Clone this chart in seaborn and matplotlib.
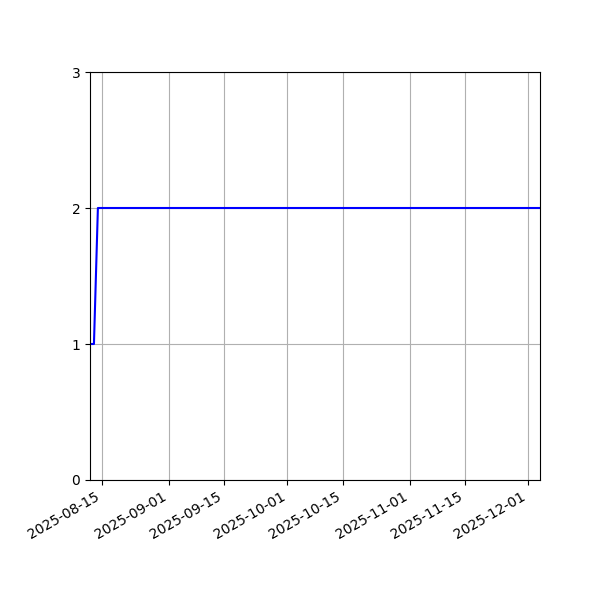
import pandas as pd
import seaborn as sns
import matplotlib.pyplot as plt
import matplotlib.dates as mdates

# 数据
dates = ['2025-08-12', '2025-08-13', '2025-08-14', '2025-12-04']
values = [1, 1, 2, 2]

df = pd.DataFrame({'date': pd.to_datetime(dates), 'value': values})

fig, ax = plt.subplots(figsize=(6, 6), dpi=100)

sns.lineplot(x='date', y='value', data=df, ax=ax, color='blue', linewidth=1.5)

ax.set_xlim(df['date'].min(), df['date'].max())
ax.set_ylim(0, 3)
ax.set_yticks([0, 1, 2, 3])
ax.set_xlabel('')
ax.set_ylabel('')
ax.xaxis.set_major_locator(mdates.DayLocator(bymonthday=[1, 15]))
ax.xaxis.set_major_formatter(mdates.DateFormatter('%Y-%m-%d'))
ax.grid(True)

fig.autofmt_xdate()
fig.subplots_adjust(left=0.15, right=0.9, top=0.88, bottom=0.2)

plt.savefig('out.png')
